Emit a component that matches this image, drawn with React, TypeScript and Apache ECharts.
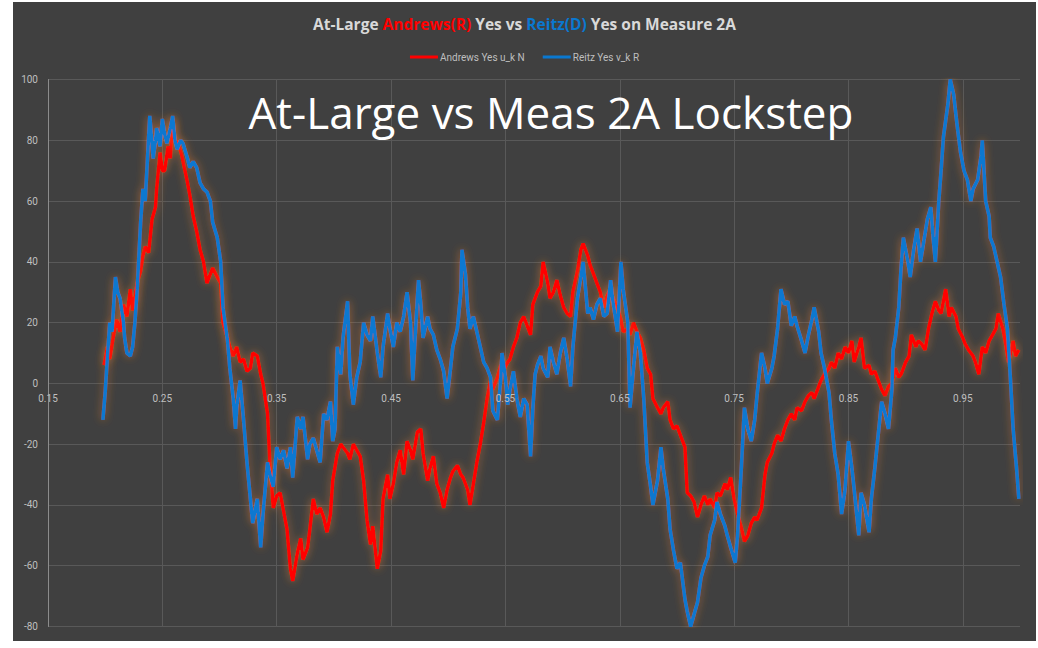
import React, { useEffect, useRef } from "react";
import * as echarts from "echarts";

const titleParts = ["At-Large ", "Andrews(R)", " Yes vs ", "Reitz(D)", " Yes on Measure 2A"];
const seriesNames = ["Andrews Yes u_k N", "Reitz Yes v_k R"];
const overlayText = "At-Large vs Meas 2A Lockstep";
const yTicks = { min: -80, max: 100, interval: 20 };
const xTicks = { min: 0.15, max: 1.0, interval: 0.1 };

const andrewsYes: [number, number][] = [
  [0.199, 6], [0.202, 12], [0.204, 8], [0.207, 15], [0.210, 21], [0.213, 17], [0.216, 26], [0.219, 22],
  [0.222, 31], [0.224, 24], [0.228, 33], [0.231, 37], [0.233, 42], [0.235, 45], [0.238, 43], [0.241, 54],
  [0.244, 58], [0.245, 64], [0.248, 76], [0.250, 70], [0.252, 70], [0.255, 78], [0.257, 74], [0.259, 87],
  [0.261, 80], [0.264, 79], [0.267, 75], [0.272, 66], [0.274, 62], [0.277, 55], [0.280, 50], [0.283, 44],
  [0.286, 40], [0.289, 33], [0.292, 36], [0.294, 38], [0.298, 35], [0.301, 33], [0.303, 20], [0.307, 15],
  [0.309, 12], [0.312, 9], [0.315, 12], [0.318, 7], [0.321, 8], [0.324, 4], [0.327, 5], [0.329, 10],
  [0.333, 9], [0.336, 3], [0.338, 0], [0.342, -10], [0.344, -26], [0.347, -41], [0.350, -37], [0.353, -36],
  [0.356, -42], [0.359, -48], [0.362, -61], [0.364, -65], [0.368, -56], [0.371, -51], [0.373, -58], [0.377, -54],
  [0.379, -48], [0.382, -38], [0.385, -43], [0.388, -41], [0.391, -44], [0.394, -49], [0.397, -43], [0.399, -32],
  [0.403, -23], [0.406, -20], [0.408, -21], [0.412, -23], [0.414, -25], [0.417, -20], [0.420, -22], [0.423, -24],
  [0.426, -32], [0.429, -45], [0.432, -53], [0.434, -47], [0.438, -61], [0.441, -55], [0.443, -38], [0.447, -30],
  [0.449, -38], [0.452, -33], [0.455, -26], [0.458, -22], [0.461, -30], [0.464, -19], [0.467, -22], [0.469, -25],
  [0.473, -16], [0.476, -15], [0.478, -23], [0.482, -32], [0.484, -28], [0.487, -24], [0.490, -33], [0.493, -36],
  [0.496, -41], [0.499, -35], [0.502, -31], [0.504, -29], [0.508, -27], [0.511, -30], [0.513, -31], [0.517, -35],
  [0.519, -40], [0.522, -33], [0.525, -26], [0.528, -20], [0.531, -13], [0.534, -5], [0.537, 1], [0.539, -2],
  [0.543, 2], [0.546, 6], [0.548, 4], [0.552, 7], [0.554, 8], [0.557, 12], [0.560, 15], [0.563, 20],
  [0.566, 22], [0.569, 19], [0.572, 16], [0.574, 26], [0.578, 30], [0.581, 32], [0.583, 40], [0.587, 33],
  [0.589, 28], [0.592, 30], [0.595, 34], [0.598, 29], [0.601, 25], [0.604, 23], [0.607, 22], [0.609, 30],
  [0.613, 37], [0.616, 44], [0.618, 46], [0.622, 42], [0.624, 39], [0.627, 36], [0.630, 33], [0.633, 30],
  [0.636, 25], [0.639, 29], [0.642, 31], [0.644, 28], [0.648, 25], [0.651, 21], [0.653, 17], [0.657, 18],
  [0.659, 16], [0.662, 20], [0.665, 17], [0.668, 15], [0.671, 11], [0.674, 5], [0.677, 3], [0.679, -5],
  [0.683, -8], [0.686, -10], [0.688, -8], [0.692, -6], [0.694, -12], [0.697, -15], [0.700, -14], [0.703, -17],
  [0.707, -21], [0.709, -36], [0.712, -37], [0.715, -39], [0.718, -44], [0.721, -40], [0.724, -37], [0.727, -40],
  [0.729, -38], [0.733, -41], [0.735, -36], [0.738, -37], [0.742, -33], [0.744, -35], [0.747, -31], [0.750, -38],
  [0.753, -43], [0.756, -47], [0.759, -52], [0.762, -50], [0.765, -46], [0.768, -44], [0.770, -45], [0.774, -41],
  [0.777, -30], [0.779, -26], [0.783, -23], [0.785, -20], [0.788, -17], [0.791, -19], [0.794, -15], [0.797, -12],
  [0.800, -10], [0.803, -12], [0.805, -8], [0.809, -9], [0.812, -6], [0.815, -4], [0.818, -3], [0.820, -5],
  [0.824, -1], [0.826, 1], [0.829, 3], [0.833, 5], [0.835, 7], [0.838, 5], [0.841, 10], [0.844, 8],
  [0.847, 12], [0.850, 10], [0.853, 14], [0.855, 7], [0.859, 12], [0.861, 15], [0.864, 5], [0.868, 6],
  [0.870, 3], [0.873, 4], [0.876, 1], [0.879, -2], [0.882, -4], [0.885, -1], [0.888, 0], [0.891, 5],
  [0.894, 2], [0.896, 3], [0.900, 7], [0.903, 9], [0.905, 16], [0.909, 12], [0.911, 14], [0.914, 13],
  [0.917, 11], [0.920, 18], [0.923, 23], [0.926, 27], [0.929, 24], [0.931, 23], [0.935, 31], [0.938, 22],
  [0.940, 25], [0.944, 22], [0.946, 18], [0.950, 15], [0.952, 13], [0.955, 11], [0.959, 9], [0.961, 7],
  [0.964, 3], [0.967, 12], [0.970, 10], [0.973, 14], [0.976, 16], [0.979, 18], [0.981, 23], [0.985, 18],
  [0.987, 14], [0.990, 7], [0.994, 14], [0.996, 9], [0.999, 11],
];

const reitzYes: [number, number][] = [
  [0.198, -12], [0.200, -3], [0.202, 9], [0.204, 20], [0.206, 17], [0.209, 35], [0.211, 30], [0.213, 28],
  [0.216, 20], [0.217, 15], [0.219, 10], [0.222, 9], [0.224, 12], [0.226, 20], [0.228, 31], [0.231, 53],
  [0.233, 64], [0.235, 60], [0.237, 74], [0.239, 88], [0.242, 74], [0.244, 80], [0.245, 84], [0.248, 78],
  [0.250, 87], [0.252, 82], [0.254, 79], [0.257, 84], [0.259, 88], [0.261, 80], [0.263, 77], [0.266, 80],
  [0.268, 79], [0.272, 74], [0.274, 71], [0.277, 73], [0.280, 71], [0.283, 66], [0.286, 64], [0.289, 63],
  [0.292, 60], [0.294, 53], [0.298, 48], [0.301, 40], [0.303, 25], [0.307, 14], [0.309, 5], [0.312, -5],
  [0.314, -15], [0.315, -8], [0.318, 1], [0.321, -12], [0.324, -26], [0.327, -38], [0.329, -46], [0.333, -38],
  [0.336, -54], [0.338, -43], [0.342, -26], [0.344, -30], [0.347, -34], [0.350, -21], [0.353, -25], [0.356, -22],
  [0.359, -28], [0.362, -21], [0.364, -31], [0.368, -11], [0.371, -15], [0.373, -11], [0.377, -25], [0.379, -20],
  [0.382, -18], [0.385, -22], [0.388, -26], [0.391, -10], [0.394, -12], [0.397, -6], [0.399, -19], [0.401, -15],
  [0.403, 12], [0.406, 3], [0.408, 15], [0.412, 27], [0.414, 3], [0.417, -7], [0.420, 2], [0.423, 7],
  [0.426, 20], [0.429, 16], [0.432, 14], [0.434, 22], [0.438, 10], [0.441, 2], [0.443, 12], [0.447, 23],
  [0.449, 18], [0.452, 12], [0.455, 20], [0.458, 17], [0.461, 22], [0.464, 30], [0.467, 20], [0.469, 1],
  [0.471, 15], [0.474, 34], [0.476, 26], [0.478, 15], [0.482, 22], [0.484, 18], [0.487, 16], [0.490, 11],
  [0.493, 8], [0.496, 4], [0.499, -5], [0.502, 5], [0.504, 12], [0.508, 18], [0.511, 30], [0.512, 44],
  [0.515, 36], [0.517, 25], [0.519, 18], [0.522, 22], [0.525, 17], [0.528, 12], [0.531, 7], [0.534, 5],
  [0.537, 2], [0.539, -9], [0.543, -12], [0.546, 2], [0.547, 10], [0.550, 2], [0.552, -7], [0.554, -2],
  [0.557, 4], [0.560, -5], [0.563, -11], [0.566, -5], [0.569, -7], [0.572, -24], [0.574, -8], [0.576, 3],
  [0.578, 6], [0.581, 9], [0.583, 5], [0.587, 2], [0.589, 12], [0.592, 7], [0.595, 3], [0.598, 10],
  [0.601, 15], [0.604, 8], [0.607, -1], [0.609, 12], [0.613, 28], [0.616, 35], [0.618, 40], [0.622, 23],
  [0.624, 25], [0.627, 21], [0.630, 26], [0.633, 28], [0.636, 22], [0.639, 23], [0.642, 34], [0.644, 27],
  [0.648, 17], [0.651, 40], [0.653, 31], [0.657, 20], [0.659, -8], [0.662, 5], [0.665, 17], [0.668, 10],
  [0.671, -5], [0.674, -26], [0.677, -34], [0.679, -40], [0.683, -32], [0.686, -21], [0.688, -28], [0.692, -38],
  [0.694, -48], [0.697, -55], [0.700, -61], [0.703, -59], [0.707, -71], [0.709, -75], [0.712, -80], [0.715, -76],
  [0.718, -72], [0.721, -64], [0.724, -60], [0.727, -57], [0.729, -50], [0.733, -45], [0.735, -39], [0.738, -43],
  [0.742, -47], [0.744, -50], [0.747, -54], [0.751, -59], [0.753, -50], [0.756, -30], [0.759, -8], [0.762, -15],
  [0.765, -19], [0.768, -12], [0.770, -4], [0.774, 10], [0.777, 5], [0.779, 0], [0.783, 5], [0.785, 9],
  [0.788, 18], [0.791, 31], [0.794, 26], [0.797, 27], [0.800, 19], [0.803, 22], [0.805, 19], [0.809, 14],
  [0.812, 10], [0.815, 16], [0.818, 21], [0.820, 25], [0.824, 17], [0.826, 10], [0.829, 5], [0.833, -3],
  [0.835, -12], [0.838, -23], [0.841, -30], [0.844, -43], [0.847, -35], [0.850, -19], [0.853, -28], [0.855, -35],
  [0.859, -50], [0.861, -36], [0.864, -40], [0.868, -49], [0.870, -38], [0.873, -28], [0.876, -17], [0.879, -6],
  [0.882, -10], [0.885, -15], [0.888, -2], [0.889, 11], [0.891, 15], [0.894, 25], [0.896, 38], [0.898, 48],
  [0.902, 40], [0.904, 35], [0.907, 44], [0.910, 51], [0.913, 40], [0.916, 47], [0.919, 54], [0.922, 58],
  [0.924, 48], [0.926, 40], [0.929, 60], [0.931, 70], [0.933, 81], [0.937, 92], [0.939, 100], [0.942, 95],
  [0.945, 85], [0.948, 76], [0.951, 70], [0.954, 67], [0.957, 60], [0.959, 64], [0.963, 67], [0.966, 75],
  [0.967, 80], [0.970, 60], [0.973, 55], [0.974, 48], [0.977, 45], [0.980, 40], [0.983, 35], [0.986, 26],
  [0.989, 18], [0.992, -1], [0.994, -15], [0.997, -28], [0.999, -38],
];

const RED = "#ff0000";
const BLUE = "#0a78d0";
const GLOW = "rgba(235,125,45,0.6)";
const TITLE_FONT = "'Open Sans'";
const GRID = { left: 35, right: 16, top: 77.5, bottom: 14.5 };
const CHART_H = 639;

export default function App() {
  const ref = useRef<HTMLDivElement>(null);
  useEffect(() => {
    if (!ref.current) return;
    const chart = echarts.init(ref.current, undefined, { renderer: "svg" });
    const titleText =
      `{w|${titleParts[0]}}{r|${titleParts[1]}}{w|${titleParts[2]}}{b|${titleParts[3]}}{w|${titleParts[4]}}`;
    const tStyle = { fontSize: 15.5, fontWeight: "bold", fontFamily: TITLE_FONT };
    // place the x axis labels on the y = 0 line: distance from grid bottom to the zero line
    const plotH = CHART_H - GRID.top - GRID.bottom;
    const zeroFromBottom = (plotH * (0 - yTicks.min)) / (yTicks.max - yTicks.min);
    const xBase = {
      type: "value",
      min: xTicks.min,
      max: xTicks.max,
      interval: xTicks.interval,
      axisTick: { show: false },
    };
    chart.setOption({
      animation: false,
      backgroundColor: "#404040",
      title: {
        text: titleText,
        left: "center",
        top: 9,
        textStyle: {
          rich: {
            w: { ...tStyle, color: "#d9d9d9" },
            r: { ...tStyle, color: RED },
            b: { ...tStyle, color: BLUE },
          },
        },
      },
      legend: {
        top: 45,
        left: "center",
        itemWidth: 28,
        itemHeight: 3,
        itemGap: 18,
        icon: "rect",
        textStyle: { color: "#bfbfbf", fontSize: 10, fontFamily: "Roboto", padding: [0, 0, 0, -3] },
        data: seriesNames,
      },
      grid: { ...GRID, containLabel: false },
      xAxis: [
        {
          ...xBase,
          axisLine: { show: false, onZero: false },
          axisLabel: { show: false },
          splitLine: { show: true, showMaxLine: false, lineStyle: { color: "#595959", width: 1 } },
        },
        {
          ...xBase,
          position: "bottom",
          offset: -zeroFromBottom,
          z: 10,
          axisLine: { show: false, onZero: false },
          splitLine: { show: false },
          axisLabel: {
            color: "#bfbfbf",
            fontSize: 10,
            fontFamily: "Roboto",
            margin: 10,
            showMaxLabel: false,
            formatter: (v: number) => v.toFixed(2),
          },
        },
      ],
      yAxis: {
        type: "value",
        min: yTicks.min,
        max: yTicks.max,
        interval: yTicks.interval,
        axisLine: { show: true, lineStyle: { color: "#8c8c8c", width: 1 } },
        axisTick: { show: false },
        axisLabel: { color: "#bfbfbf", fontSize: 10, fontFamily: "Roboto", margin: 10 },
        splitLine: { show: true, lineStyle: { color: "#595959", width: 1 } },
      },
      graphic: [
        {
          type: "text",
          x: 538,
          y: 110,
          style: {
            text: overlayText,
            fill: "#ffffff",
            font: "44px 'Open Sans'",
            textAlign: "center",
            textVerticalAlign: "middle",
          },
          z: 100,
        },
      ],
      series: [
        {
          name: seriesNames[0],
          type: "line",
          xAxisIndex: 0,
          data: andrewsYes,
          showSymbol: false,
          symbol: "none",
          itemStyle: { color: RED },
          lineStyle: { color: RED, width: 3.5, shadowColor: GLOW, shadowBlur: 9 },
        },
        {
          name: seriesNames[1],
          type: "line",
          xAxisIndex: 0,
          data: reitzYes,
          showSymbol: false,
          symbol: "none",
          itemStyle: { color: BLUE },
          lineStyle: { color: BLUE, width: 3.5, shadowColor: GLOW, shadowBlur: 9 },
        },
      ],
    });
    return () => chart.dispose();
  }, []);
  return (
    <div
      ref={ref}
      style={{ position: "fixed", left: 13, top: 2, width: 1023, height: CHART_H }}
    />
  );
}
